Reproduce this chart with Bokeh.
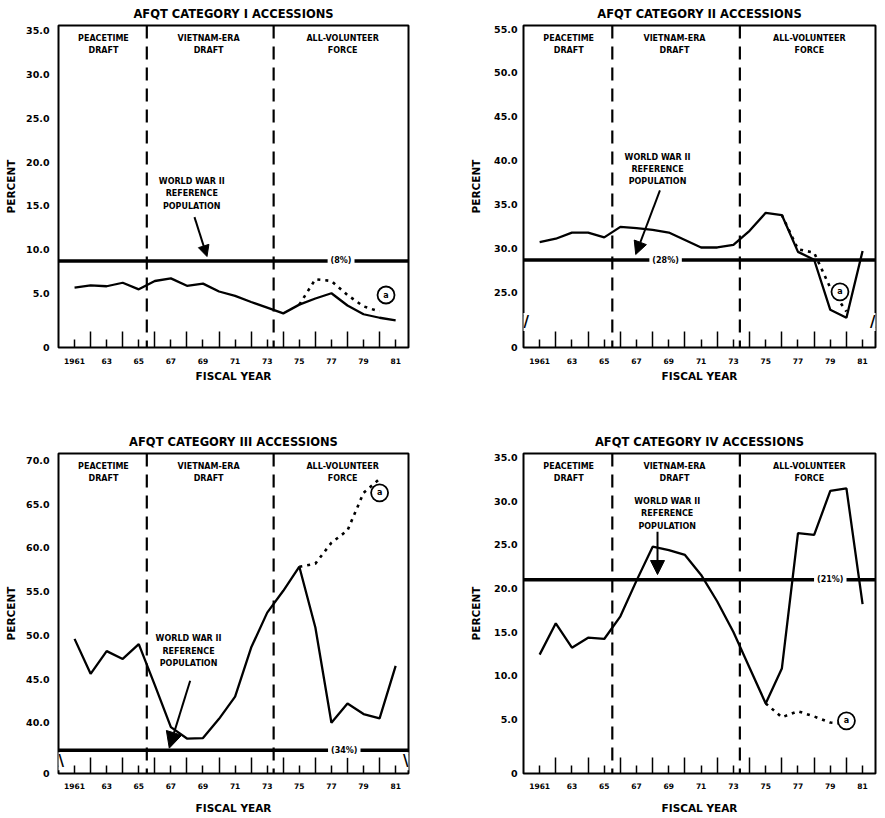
from bokeh.plotting import figure
from bokeh.models import FixedTicker, Span, Label, Arrow, NormalHead, Range1d
from bokeh.layouts import column, row
from bokeh.embed import file_html
from bokeh.resources import INLINE

# ---------------- data ----------------
years = list(range(1961, 1982))
x_tick_years = list(range(1961, 1982, 2))
x_minor_years = list(range(1962, 1981, 2))
x_tick_labels = ["1961", "63", "65", "67", "69", "71", "73", "75", "77", "79", "81"]

cat1 = [5.65, 5.9, 5.8, 6.2, 5.45, 6.4, 6.7, 5.85, 6.1, 5.2, 4.7,
        4.0, 3.35, 2.7, 3.7, 4.4, 5.0, 3.6, 2.6, 2.2, 1.9]
cat2 = [30.7, 31.1, 31.8, 31.8, 31.25, 32.45, 32.3, 32.1, 31.8, 30.95, 30.1,
        30.1, 30.4, 32.0, 34.05, 33.8, 29.6, 28.7, 23.0, 22.1, 29.7]
cat3 = [49.6, 45.6, 48.2, 47.3, 49.0, 44.3, 39.5, 38.2, 38.25, 40.45, 43.0,
        48.6, 52.6, 55.1, 57.85, 50.9, 40.0, 42.2, 41.0, 40.5, 46.5]
cat4 = [12.4, 16.0, 13.2, 14.35, 14.2, 16.8, 20.9, 24.8, 24.4, 23.85, 21.55,
        18.5, 15.0, 10.9, 6.8, 10.8, 26.35, 26.15, 31.2, 31.5, 18.2]

# dotted series (footnote a)
cat1_dot_years = [1975, 1976, 1977, 1978, 1979, 1980]
cat1_dot = [3.7, 6.6, 6.4, 4.8, 3.5, 2.9]
cat2_dot_years = [1976, 1977, 1978, 1979, 1980]
cat2_dot = [33.8, 29.9, 29.5, 25.5, 22.8]
cat3_dot_years = [1975, 1976, 1977, 1978, 1979, 1980]
cat3_dot = [57.85, 58.2, 60.6, 62.0, 66.3, 67.9]
cat4_dot_years = [1975, 1976, 1977, 1978, 1979, 1980]
cat4_dot = [6.8, 5.2, 5.9, 5.3, 4.6, 4.4]

titles = ["AFQT CATEGORY I ACCESSIONS", "AFQT CATEGORY II ACCESSIONS",
          "AFQT CATEGORY III ACCESSIONS", "AFQT CATEGORY IV ACCESSIONS"]
y_ticks = [[5, 10, 15, 20, 25, 30, 35], [25, 30, 35, 40, 45, 50, 55],
           [40, 45, 50, 55, 60, 65, 70], [5, 10, 15, 20, 25, 30, 35]]
ref_levels = [8.7, 28.67, 36.85, 21.0]
ref_labels = ["(8%)", "(28%)", "(34%)", "(21%)"]
era_bounds = [1965.5, 1973.4]
era_texts = [("PEACETIME", "DRAFT", 1962.8), ("VIETNAM-ERA", "DRAFT", 1969.35),
             ("ALL-VOLUNTEER", "FORCE", 1977.7)]
ww_texts = ["WORLD WAR II", "REFERENCE", "POPULATION"]

FONT = "DejaVu Sans"
X0, X1 = 1960.0, 1981.8


def make_panel(idx, series, dot_x, dot_y, width, height, bl, br, bt, bb,
               yr, ref_x, arrow, ww_x, ww_y, circ, brk, brk_txt,
               lab_so, ax_so, ylab_so, yax_so):
    fh = height - bt - bb
    p = figure(width=width, height=height, output_backend="svg",
               toolbar_location=None, x_range=Range1d(X0, X1),
               y_range=Range1d(yr[0], yr[1]),
               min_border_left=bl, min_border_right=br,
               min_border_top=bt, min_border_bottom=bb)
    p.title.text = titles[idx]
    p.title.align = "center"
    p.title.text_font = FONT
    p.title.text_font_size = "11.5px"
    p.title.text_font_style = "bold"
    p.title.text_color = "black"
    p.title.standoff = 9
    p.grid.visible = False
    p.outline_line_color = "black"
    p.outline_line_width = 2
    p.outline_line_alpha = 1.0
    p.background_fill_color = "white"
    p.border_fill_color = "white"

    # x axis
    xa = p.xaxis[0]
    xa.ticker = FixedTicker(ticks=x_tick_years, minor_ticks=x_minor_years)
    xa.major_label_overrides = {y: l for y, l in zip(x_tick_years, x_tick_labels)}
    xa.major_tick_in = 8
    xa.major_tick_out = 0
    xa.minor_tick_in = 16
    xa.minor_tick_out = 0
    xa.major_tick_line_width = 1.5
    xa.minor_tick_line_width = 1.5
    xa.major_tick_line_color = "black"
    xa.minor_tick_line_color = "black"
    xa.axis_line_color = None
    xa.major_label_standoff = lab_so
    xa.major_label_text_font = FONT
    xa.major_label_text_font_size = "7.5px"
    xa.major_label_text_font_style = "bold"
    xa.major_label_text_color = "black"
    xa.axis_label = "FISCAL YEAR"
    xa.axis_label_standoff = ax_so
    xa.axis_label_text_font = FONT
    xa.axis_label_text_font_size = "10.5px"
    xa.axis_label_text_font_style = "bold"
    xa.axis_label_text_color = "black"

    # y axis
    ya = p.yaxis[0]
    ticks = [yr[0]] + y_ticks[idx]
    ya.ticker = FixedTicker(ticks=ticks)
    ov = {t: f"{t:.1f}" for t in y_ticks[idx]}
    ov[yr[0]] = "0"
    ya.major_label_overrides = ov
    ya.major_tick_in = 0
    ya.major_tick_out = 0
    ya.minor_tick_line_color = None
    ya.axis_line_color = None
    ya.major_label_standoff = ylab_so
    ya.major_label_text_font = FONT
    ya.major_label_text_font_size = "9.5px"
    ya.major_label_text_font_style = "bold"
    ya.major_label_text_color = "black"
    ya.axis_label = "PERCENT"
    ya.axis_label_standoff = yax_so
    ya.axis_label_text_font = FONT
    ya.axis_label_text_font_size = "10.5px"
    ya.axis_label_text_font_style = "bold"
    ya.axis_label_text_color = "black"

    upp = (yr[1] - yr[0]) / fh  # data units per pixel

    # era separators
    for b in era_bounds:
        p.add_layout(Span(location=b, dimension="height", line_color="black",
                          line_width=2.2, line_dash="13 8"))

    # reference line
    p.add_layout(Span(location=ref_levels[idx], dimension="width",
                      line_color="black", line_width=3.5))
    p.add_layout(Label(x=ref_x, y=ref_levels[idx], text=ref_labels[idx],
                       text_align="center", text_baseline="middle",
                       text_font=FONT, text_font_size="8px",
                       text_font_style="bold", text_color="black",
                       background_fill_color="white", background_fill_alpha=1.0,
                       border_line_color=None, padding=3))

    # data
    p.line(years, series, line_color="black", line_width=2.3)
    p.line(dot_x, dot_y, line_color="black", line_width=2.6, line_dash="3 5")

    # era labels
    for t1, t2, ex in era_texts:
        for k, t in enumerate([t1, t2]):
            p.add_layout(Label(x=ex, y=yr[1] - (13 + 12 * k) * upp, text=t,
                               text_align="center", text_baseline="middle",
                               text_font=FONT, text_font_size="8px",
                               text_font_style="bold", text_color="black"))

    # WWII annotation
    for k, t in enumerate(ww_texts):
        p.add_layout(Label(x=ww_x, y=ww_y - 12.5 * k * upp, text=t,
                           text_align="center", text_baseline="middle",
                           text_font=FONT, text_font_size="8px",
                           text_font_style="bold", text_color="black"))
    p.add_layout(Arrow(end=NormalHead(size=arrow[4], fill_color="black",
                                      line_color="black"),
                       x_start=arrow[0], y_start=arrow[1],
                       x_end=arrow[2], y_end=arrow[3],
                       line_color="black", line_width=2))

    # footnote circle
    p.scatter([circ[0]], [circ[1]], size=17, marker="circle",
              fill_color="white", line_color="black", line_width=1.8)
    p.add_layout(Label(x=circ[0], y=circ[1], text="a", text_align="center",
                       text_baseline="middle", text_font=FONT,
                       text_font_size="8px", text_font_style="bold",
                       text_color="black"))

    # axis break marks
    if brk is not None:
        for bx in (X0, X1):
            p.add_layout(Label(x=bx, y=brk, text=brk_txt, text_align="center",
                               text_baseline="middle", text_font=FONT,
                               text_font_size="15px", text_font_style="bold",
                               text_color="black", background_fill_color="white",
                               background_fill_alpha=1.0, padding=0))
    return p


# row 1: height 428 (frame 23..348), row 2: height 388 (frame 453..775)
p1 = make_panel(0, cat1, cat1_dot_years, cat1_dot, 440, 428, 58, 32, 23, 80,
                (-1.2, 35.6), 1977.6, (1968.47, 13.7, 1969.25, 9.2, 11),
                1968.3, 17.8, (1980.4, 4.8), None, "",
                10, 3, 9, 6)
p2 = make_panel(1, cat2, cat2_dot_years, cat2_dot, 445, 428, 83, 10, 23, 81,
                (18.7, 55.4), 1968.8, (1968.45, 36.6, 1966.95, 29.3, 13),
                1968.3, 40.4, (1979.6, 25.05), 21.6, "//",
                10, 3, 6, 9)
p3 = make_panel(2, cat3, cat3_dot_years, cat3_dot, 440, 388, 58, 32, 25, 41,
                (34.2, 70.8), 1977.8, (1968.2, 44.8, 1966.9, 37.1, 16),
                1968.1, 49.6, (1980.0, 66.3), 35.6, "\\\\",
                9, 10, 9, 6)
p4 = make_panel(3, cat4, cat4_dot_years, cat4_dot, 445, 388, 83, 10, 25, 41,
                (-1.25, 35.5), 1979.0, (1968.3, 26.5, 1968.3, 21.6, 14),
                1968.9, 30.0, (1980.0, 4.8), None, "",
                9, 10, 6, 9)

layout = column(row(p1, p2), row(p3, p4))
open("out.html", "w").write(file_html(layout, INLINE))
